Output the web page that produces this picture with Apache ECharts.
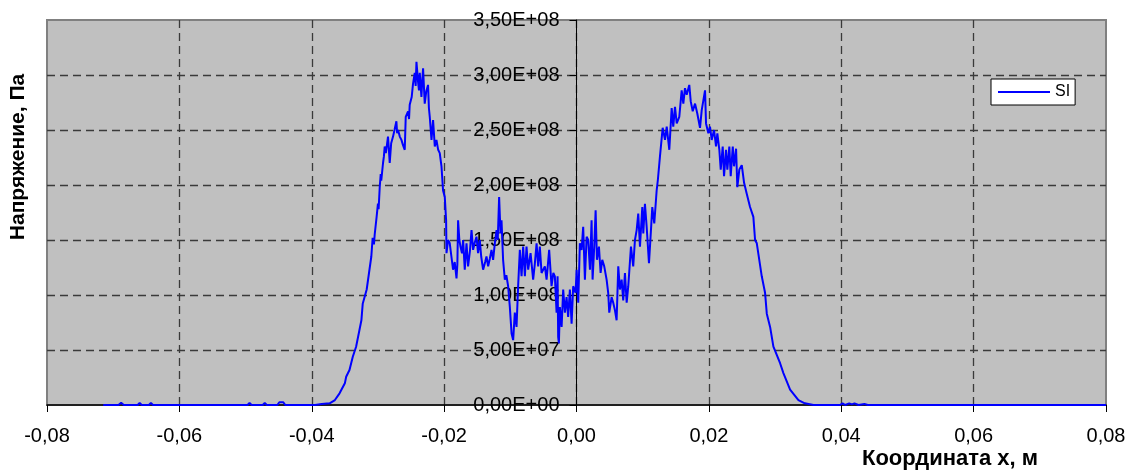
<!DOCTYPE html>
<html>
<head>
<meta charset="utf-8">
<script src="https://cdn.jsdelivr.net/npm/echarts@6/dist/echarts.min.js"></script>
<style>
html,body{margin:0;padding:0;background:#fff;}
#chart{width:1128px;height:470px;}
</style>
</head>
<body>
<div id="chart"></div>
<script>
// ---- Data (x in metres, stress in Pa) ----
const seriesName = 'SI';
const xTitle = 'Координата x, м';
const yTitle = 'Напряжение, Па';

const xs = [
-0.0715,-0.0692,-0.0688,-0.0684,-0.0663,-0.0660,-0.0657,-0.0646,-0.0643,-0.0640,
-0.0535,-0.0532,-0.0529,-0.0497,-0.0494,-0.0491,-0.0474,-0.0471,-0.0468,-0.0452,
-0.0449,-0.0446,-0.0443,-0.0440,-0.0395,-0.0385,
-0.0373,-0.0365,-0.0358,-0.0350,-0.0348,-0.0343,-0.0338,-0.0333,-0.0328,-0.0325,
-0.0323,-0.0317,-0.03135,-0.0310,-0.0308,-0.0306,-0.03049,-0.0302,-0.0300,-0.0299,
-0.02973,-0.02958,-0.0295,-0.02923,-0.0291,-0.02898,-0.0288,-0.02848,-0.0284,-0.02822,
-0.0280,-0.02772,-0.0275,-0.02721,-0.0271,-0.02696,-0.0267,-0.02645,-0.0262,-0.02595,
-0.0258,-0.02545,-0.0253,-0.0252,-0.0249,-0.0247,-0.02444,-0.0243,-0.02418,-0.02394,
-0.0238,-0.02368,-0.02343,-0.0233,-0.02318,-0.0230,-0.02293,-0.0227,-0.02243,-0.0223,
-0.02217,-0.02191,-0.02167,-0.02141,-0.02116,-0.0209,-0.02066,-0.0204,-0.02016,-0.0199,
-0.0197,-0.01964,-0.0194,-0.01915,-0.0189,-0.01865,-0.0184,-0.01813,-0.0180,-0.01789,
-0.0177,-0.01753,-0.0173,-0.01713,-0.01688,-0.01662,-0.01638,-0.0161,-0.01586,-0.01562,
-0.0154,-0.01511,-0.01487,-0.01461,-0.0144,-0.01411,-0.0138,-0.0136,-0.01335,-0.0131,
-0.01284,-0.0126,-0.01234,-0.01208,-0.0119,-0.01169,-0.01148,-0.01133,-0.01109,-0.01083,
-0.0106,-0.01033,-0.01007,-0.00981,-0.00957,-0.00932,-0.00906,-0.00882,-0.00856,-0.0083,
-0.00806,-0.0078,-0.00755,-0.0073,-0.00694,-0.00655,-0.0063,-0.00603,-0.00579,-0.00554,
-0.00528,-0.00478,-0.00452,-0.00413,-0.00377,-0.0035,-0.00327,-0.00301,-0.00286,-0.00277,
-0.00266,-0.00251,-0.00225,-0.00201,-0.00175,-0.0015,-0.00126,-0.0010,-0.00074,-0.0005,
-0.00014,0.00002,0.00026,0.00051,0.00077,0.00101,0.00127,0.00153,0.00177,0.00203,
0.00228,0.00243,0.00268,0.00289,0.00309,0.00339,0.00364,0.00389,0.00419,0.00455,
0.00479,0.00495,0.00531,0.00555,0.00581,0.00606,0.00631,0.00656,0.00682,0.00706,
0.00732,0.00758,0.00782,0.00823,0.00857,0.00883,0.00909,0.00933,0.00959,0.00994,
0.01009,0.01034,0.0106,0.01095,0.01125,0.01145,0.01175,0.01211,0.0123,0.01261,
0.01302,0.01337,0.01363,0.01402,0.01438,0.01462,0.01488,0.01514,0.01553,0.01589,
0.01614,0.01639,0.01665,0.01704,0.01726,0.01756,0.01791,0.01825,0.01866,0.01892,
0.01942,0.01957,0.01992,0.02017,0.02043,0.02078,0.02108,0.02128,0.02158,0.02179,
0.02209,0.02229,0.02259,0.02279,0.02309,0.0233,0.02361,0.0238,0.02411,0.0243,
0.0246,0.02497,0.02532,0.02572,0.02622,0.02672,0.02698,0.02724,0.02799,0.02849,
0.02875,0.02925,0.02975,0.03076,0.03126,0.03227,0.03353,0.0345,0.0358,0.0398,
0.0402,0.0406,0.0412,0.0416,0.0420,0.0426,0.0435,0.0440,0.0497,0.0500,
0.0503,0.0619,0.0622,0.0625,0.0657,0.0660,0.0663,0.0800
];

const ys = [
0,0,2e6,0,0,2e6,0,0,2e6,0,
0,1.5e6,0,0,2e6,0,0,2e6,0,0,
2.5e6,1e6,2.5e6,0,0,1e6,
1.5e6,4.5e6,10.6e6,19.7e6,25.7e6,31.8e6,43.9e6,53e6,68e6,77e6,
92e6,105e6,120e6,135e6,152e6,146e6,155e6,171e6,183e6,178e6,
198e6,210e6,204e6,220e6,226e6,235e6,229e6,244e6,237e6,220e6,
238e6,244e6,250e6,258e6,247e6,250e6,244e6,241e6,236e6,232e6,
262e6,267e6,260e6,273e6,280e6,292e6,302e6,290e6,312e6,294e6,
286e6,302e6,280e6,295e6,306e6,283e6,274e6,285e6,291e6,270e6,
262e6,241e6,259e6,235e6,241e6,232e6,229e6,217e6,195e6,189e6,
168e6,138e6,150e6,147e6,135e6,123e6,130e6,115e6,128e6,168e6,
150e6,144e6,138e6,150e6,123e6,147e6,126e6,140e6,159e6,141e6,
147e6,153e6,138e6,150e6,135e6,123e6,130e6,135e6,126e6,133e6,
141e6,132e6,147e6,159e6,150e6,189e6,156e6,168e6,132e6,114e6,
118e6,108e6,89e6,65e6,59e6,84e6,71e6,108e6,141e6,117e6,
144e6,117e6,144e6,123e6,138e6,114e6,128e6,147e6,126e6,144e6,
120e6,126e6,114e6,141e6,108e6,120e6,117e6,84e6,117e6,62e6,
56e6,89e6,71e6,105e6,84e6,98e6,80e6,105e6,74e6,108e6,
102e6,123e6,93e6,147e6,141e6,162e6,114e6,153e6,150e6,123e6,
168e6,114e6,144e6,177e6,132e6,144e6,120e6,132e6,126e6,114e6,
102e6,84e6,98e6,93e6,86e6,77e6,126e6,105e6,114e6,95e6,
120e6,93e6,108e6,144e6,126e6,150e6,159e6,174e6,144e6,180e6,
156e6,183e6,162e6,129e6,159e6,180e6,165e6,195e6,205e6,226e6,
252e6,241e6,253e6,232e6,270e6,253e6,271e6,256e6,262e6,286e6,
274e6,288e6,282e6,291e6,276e6,267e6,274e6,265e6,252e6,268e6,
286e6,256e6,247e6,253e6,241e6,250e6,235e6,247e6,232e6,214e6,
235e6,208e6,232e6,214e6,235e6,208e6,235e6,217e6,233e6,198e6,
214e6,218e6,202e6,192e6,180e6,171e6,150e6,147e6,117e6,102e6,
83e6,71e6,53e6,38e6,29e6,14e6,4.5e6,1.5e6,0,0,
1.5e6,0,1.5e6,0.5e6,1.5e6,0,1e6,0,0,1.5e6,
0,0,1.5e6,0,0,1.5e6,0,0
];

const xMin = -0.08, xMax = 0.08, xStep = 0.02;
const yMin = 0, yMax = 3.5e8, yStep = 5e7;

const seriesData = xs.map((x, i) => [x, ys[i]]);

function fmtX(v) {
  if (Math.abs(v) < 1e-12) return '0,00';
  return v.toFixed(2).replace('.', ',');
}
function fmtY(v) {
  if (v === 0) return '0,00E+00';
  const e = Math.floor(Math.log10(v) + 1e-12);
  const m = v / Math.pow(10, e);
  return m.toFixed(2).replace('.', ',') + 'E+' + String(e).padStart(2, '0');
}

const FONT = '"Liberation Sans", Arial, sans-serif';
const GRID = {left: 47, right: 22, top: 20, bottom: 65};
const gridWidth = 1128 - GRID.left - GRID.right;
// place the value axis at x = 0 (as in the original, the Y axis crosses at zero)
const yAxisOffset = -gridWidth * (0 - xMin) / (xMax - xMin);

const chart = echarts.init(document.getElementById('chart'), null, {renderer: 'canvas'});
const dash = {color: '#3a3a3a', width: 1.3, type: [8, 5]};

chart.setOption({
  animation: false,
  backgroundColor: '#ffffff',
  grid: {
    left: GRID.left, right: GRID.right, top: GRID.top, bottom: GRID.bottom,
    containLabel: false, outerBoundsMode: 'none',
    show: true, backgroundColor: '#c0c0c0', borderColor: '#808080', borderWidth: 2
  },
  legend: {
    left: 991, top: 79,
    backgroundColor: '#ffffff', borderColor: '#000000', borderWidth: 1,
    padding: [5, 5, 5, 7],
    itemWidth: 52, itemHeight: 2,
    textStyle: {fontSize: 16, color: '#000', fontFamily: FONT},
    data: [{name: seriesName, icon: 'rect'}]
  },
  xAxis: [{
    type: 'value', min: xMin, max: xMax, interval: xStep,
    axisLine: {show: true, onZero: true, lineStyle: {color: '#000', width: 1.5}},
    axisTick: {show: true, inside: false, length: 7, lineStyle: {color: '#000', width: 1}},
    axisLabel: {formatter: fmtX, fontSize: 20, color: '#000', fontFamily: FONT, margin: 21},
    splitLine: {show: true, showMinLine: false, showMaxLine: false, lineStyle: dash}
  }],
  yAxis: [{
    type: 'value', min: yMin, max: yMax, interval: yStep,
    position: 'left', offset: yAxisOffset,
    axisLine: {show: true, onZero: false, lineStyle: {color: '#000', width: 1}},
    axisTick: {show: true, inside: false, length: 7, lineStyle: {color: '#000', width: 1}},
    axisLabel: {formatter: fmtY, fontSize: 20, color: '#000', fontFamily: FONT, margin: 17,
                padding: [0, 0, 4, 0]},
    splitLine: {show: true, showMinLine: false, showMaxLine: false, lineStyle: dash}
  }],
  graphic: [
    {
      type: 'text', x: 18, y: 157, rotation: Math.PI / 2,
      style: {text: yTitle, font: 'bold 21px ' + FONT, fill: '#000',
              textAlign: 'center', textVerticalAlign: 'middle', align: 'center', verticalAlign: 'middle'}
    },
    {
      type: 'text', x: 950, y: 459,
      style: {text: xTitle, font: 'bold 22px ' + FONT, fill: '#000',
              textAlign: 'center', textVerticalAlign: 'middle', align: 'center', verticalAlign: 'middle'}
    }
  ],
  series: [{
    name: seriesName, type: 'line', data: seriesData,
    showSymbol: false, symbol: 'none',
    color: '#0000ff',
    lineStyle: {color: '#0000ff', width: 2},
    itemStyle: {color: '#0000ff'},
    z: 3
  }]
});
</script>
</body>
</html>
